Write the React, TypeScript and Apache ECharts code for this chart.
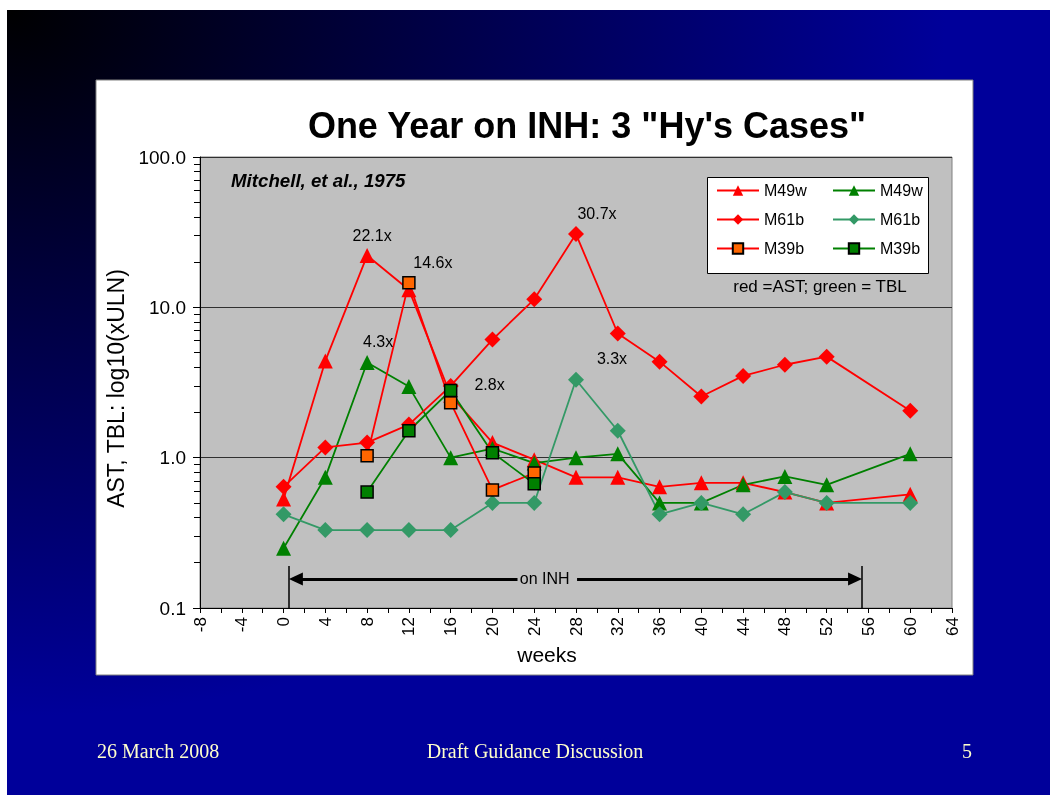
import React, { useEffect, useRef } from 'react';
import * as echarts from 'echarts';

// ---------- data ----------
const weeks = [0, 4, 8, 12, 16, 20, 24, 28, 32, 36, 40, 44, 48, 52, 60];
const m49wAST = [0.53, 4.4, 22.1, 13.1, 2.6, 1.26, 0.97, 0.74, 0.74, 0.64, 0.68, 0.68, 0.59, 0.5, 0.57];
const m49wTBL = [0.25, 0.74, 4.3, 2.97, 1.0, 1.15, 0.92, 1.0, 1.06, 0.5, 0.5, 0.66, 0.75, 0.66, 1.06];
const m61bAST = [0.64, 1.17, 1.26, 1.66, 3.0, 6.1, 11.3, 30.7, 6.7, 4.35, 2.55, 3.5, 4.15, 4.7, 2.05];
const m61bTBL = [0.42, 0.33, 0.33, 0.33, 0.33, 0.5, 0.5, 3.3, 1.51, 0.42, 0.5, 0.42, 0.59, 0.5, 0.5];
const m39bWeeks = [8, 12, 16, 20, 24];
const m39bAST = [1.03, 14.6, 2.32, 0.61, 0.79];
const m39bTBL = [0.59, 1.51, 2.8, 1.08, 0.67];

const xMin = -8;
const xMax = 64;
const xInterval = 4;
const yMin = 0.1;
const yMax = 100;

// on-INH period (weeks) and the level of the arrow
const inhStart = 0.5;
const inhEnd = 55.4;
const inhLevel = 0.156;
const inhTickTop = 0.19;
const inhTextWeek = 25.0;
const inhGapLeft = 22.4;
const inhGapRight = 28.1;

const titleText = 'One Year on INH: 3 "Hy\'s Cases"';
const sourceText = 'Mitchell, et al., 1975';
const legendNote = 'red =AST; green = TBL';
const footerLeft = '26 March 2008';
const footerCenter = 'Draft Guidance Discussion';
const footerRight = '5';

// annotated points: [series, week, position, offset]
const annotated: [string, number, string, number[]][] = [
  ['M49w AST', 8, 'top', [5, 0]],
  ['M39b AST', 12, 'top', [24, 0]],
  ['M49w TBL', 8, 'top', [11, 0]],
  ['M39b TBL', 16, 'right', [12, -6]],
  ['M61b AST', 28, 'top', [21, 0]],
  ['M61b TBL', 28, 'top', [36, 0]],
];

const FONT = '"Liberation Sans", Arial, sans-serif';
const SERIF = '"Liberation Serif", "Times New Roman", serif';

function buildData(name: string, ws: number[], vs: number[]) {
  return ws.map((w, i) => {
    const a = annotated.find((r) => r[0] === name && r[1] === w);
    if (!a) return [w, vs[i]];
    return {
      value: [w, vs[i]],
      label: {
        show: true,
        formatter: `${vs[i]}x`,
        position: a[2],
        offset: a[3],
        distance: 5,
        color: '#000',
        fontSize: 16,
        fontFamily: FONT,
      },
    };
  });
}

function lineSeries(name: string, ws: number[], vs: number[], lineColor: string, symbol: string, symbolSize: number, fill: string, border?: string) {
  return {
    name,
    type: 'line',
    data: buildData(name, ws, vs),
    symbol,
    symbolSize,
    showAllSymbol: true,
    lineStyle: { color: lineColor, width: 1.8 },
    itemStyle: { color: fill, borderColor: border || fill, borderWidth: border ? 1.5 : 0 },
    emphasis: { disabled: true },
    z: 2,
  };
}

export default function App() {
  const ref = useRef<HTMLDivElement>(null);
  useEffect(() => {
    if (!ref.current) return;
    const chart = echarts.init(ref.current, undefined, { renderer: 'svg' });
    const RED = '#FF0000';
    const GREEN = '#008000';
    const SEA = '#339966';
    const ORANGE = '#FF6600';
    const arrowSeries = {
      name: 'inh',
      type: 'line',
      data: [],
      silent: true,
      markLine: {
        silent: true,
        symbol: ['none', 'none'],
        symbolSize: [13, 14],
        label: { show: false },
        emphasis: { disabled: true },
        lineStyle: { color: '#000', width: 3, type: 'solid' },
        data: [
          [
            { coord: [inhGapLeft, inhLevel], symbol: 'none' },
            { coord: [inhStart + 0.68, inhLevel], symbol: 'triangle' },
          ],
          [
            { coord: [inhGapRight, inhLevel], symbol: 'none' },
            { coord: [inhEnd - 0.68, inhLevel], symbol: 'triangle' },
          ],
          [
            { coord: [inhStart, yMin], symbol: 'none', lineStyle: { width: 1.5, color: '#000' } },
            { coord: [inhStart, inhTickTop], symbol: 'none' },
          ],
          [
            { coord: [inhEnd, yMin], symbol: 'none', lineStyle: { width: 1.5, color: '#000' } },
            { coord: [inhEnd, inhTickTop], symbol: 'none' },
          ],
        ],
      },
      markPoint: {
        silent: true,
        data: [
          {
            coord: [inhTextWeek, inhLevel],
            symbol: 'rect',
            symbolSize: [1, 1],
            itemStyle: { color: 'rgba(0,0,0,0)' },
            label: { show: true, position: 'inside', formatter: 'on INH', color: '#000', fontSize: 16, fontFamily: FONT },
          },
        ],
      },
      z: 3,
    };

    const legendCommon = {
      orient: 'vertical',
      itemWidth: 42,
      itemHeight: 13,
      itemGap: 13,
      selectedMode: false,
      formatter: (n: string) => n.split(' ')[0],
      textStyle: { fontSize: 16, color: '#000', fontFamily: FONT },
      z: 5,
    };

    chart.setOption({
      animation: false,
      graphic: [
        {
          type: 'rect',
          z: -100,
          shape: { x: 7, y: 10, width: 1043, height: 785 },
          style: {
            fill: {
              type: 'radial',
              x: 0,
              y: 0,
              r: 0.9,
              colorStops: [
                { offset: 0, color: '#000000' },
                { offset: 1, color: '#00009A' },
              ],
            },
          },
          silent: true,
        },
        {
          type: 'rect',
          z: -99,
          shape: { x: 96, y: 80, width: 877, height: 595 },
          style: { fill: '#FFFFFF', stroke: '#808080', lineWidth: 1 },
          silent: true,
        },
        {
          type: 'text',
          z: 10,
          x: 587,
          y: 125,
          style: { text: titleText, fill: '#000', font: `bold 36px ${FONT}`, align: 'center', verticalAlign: 'middle' },
        },
        {
          type: 'text',
          z: 10,
          x: 231,
          y: 180,
          style: { text: sourceText, fill: '#000', font: `italic bold 18.7px ${FONT}`, align: 'left', verticalAlign: 'middle' },
        },
        {
          type: 'rect',
          z: 3,
          shape: { x: 707.5, y: 177.5, width: 221, height: 96 },
          style: { fill: '#FFFFFF', stroke: '#000', lineWidth: 1 },
          silent: true,
        },
        {
          type: 'text',
          z: 10,
          x: 820,
          y: 286,
          style: { text: legendNote, fill: '#000', font: `17px ${FONT}`, align: 'center', verticalAlign: 'middle' },
        },
        {
          type: 'text',
          z: 10,
          x: 97,
          y: 751,
          style: { text: footerLeft, fill: '#FFFFCC', font: `20px ${SERIF}`, align: 'left', verticalAlign: 'middle' },
        },
        {
          type: 'text',
          z: 10,
          x: 535,
          y: 751,
          style: { text: footerCenter, fill: '#FFFFCC', font: `20px ${SERIF}`, align: 'center', verticalAlign: 'middle' },
        },
        {
          type: 'text',
          z: 10,
          x: 972,
          y: 751,
          style: { text: footerRight, fill: '#FFFFCC', font: `20px ${SERIF}`, align: 'right', verticalAlign: 'middle' },
        },
      ],
      legend: [
        { ...legendCommon, left: 711, top: 177.5, data: ['M49w AST', 'M61b AST', 'M39b AST'] },
        { ...legendCommon, left: 827, top: 177.5, data: ['M49w TBL', 'M61b TBL', 'M39b TBL'] },
      ],
      grid: {
        left: 200,
        top: 157,
        width: 752,
        height: 451,
        show: true,
        backgroundColor: '#C0C0C0',
        borderColor: '#808080',
        borderWidth: 1,
        z: 0,
      },
      xAxis: {
        type: 'value',
        min: xMin,
        max: xMax,
        interval: xInterval,
        name: 'weeks',
        nameLocation: 'middle',
        nameGap: 36,
        nameTextStyle: { fontSize: 21, color: '#000', fontFamily: FONT, padding: [0, 58, 0, 0] },
        axisLine: { show: true, onZero: false, lineStyle: { color: '#000', width: 1 } },
        axisTick: { show: true, length: 5, lineStyle: { color: '#000' } },
        minorTick: { show: true, splitNumber: 2, length: 5, lineStyle: { color: '#000' } },
        splitLine: { show: false },
        axisLabel: { rotate: 90, margin: 9, fontSize: 17, color: '#000', fontFamily: FONT },
      },
      yAxis: {
        type: 'log',
        logBase: 10,
        min: yMin,
        max: yMax,
        name: 'AST, TBL: log10(xULN)',
        nameLocation: 'middle',
        nameRotate: 90,
        nameGap: 47,
        nameTextStyle: { fontSize: 23, color: '#000', fontFamily: FONT, padding: [0, 12, 0, 0] },
        axisLine: { show: true, onZero: false, lineStyle: { color: '#000', width: 1 } },
        axisTick: { show: true, length: 7, lineStyle: { color: '#000' } },
        minorTick: { show: true, splitNumber: 9, length: 6, lineStyle: { color: '#000' } },
        splitLine: { show: true, lineStyle: { color: '#303030', width: 1 } },
        axisLabel: {
          margin: 14,
          fontSize: 19,
          color: '#000',
          fontFamily: FONT,
          formatter: (v: number) => (v >= 1 ? v.toFixed(1) : String(v)),
        },
      },
      series: [
        lineSeries('M49w AST', weeks, m49wAST, RED, 'triangle', 15, RED),
        lineSeries('M49w TBL', weeks, m49wTBL, GREEN, 'triangle', 15, GREEN),
        lineSeries('M61b AST', weeks, m61bAST, RED, 'diamond', 16, RED),
        lineSeries('M61b TBL', weeks, m61bTBL, SEA, 'diamond', 16, SEA),
        lineSeries('M39b AST', m39bWeeks, m39bAST, RED, 'rect', 12, ORANGE, '#000'),
        lineSeries('M39b TBL', m39bWeeks, m39bTBL, GREEN, 'rect', 12, GREEN, '#000'),
        arrowSeries,
      ],
    });
    return () => chart.dispose();
  }, []);
  return <div ref={ref} style={{ position: 'fixed', left: 0, top: 0, width: 1050, height: 795 }} />;
}
